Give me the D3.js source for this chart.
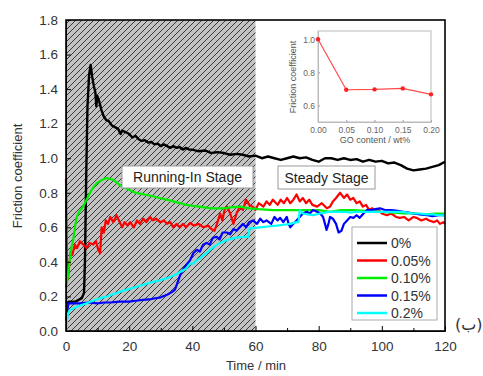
<!DOCTYPE html>
<html>
<head>
<meta charset="utf-8">
<script src="https://cdn.jsdelivr.net/npm/d3@7/dist/d3.min.js"></script>
<style>
  body { margin: 0; background: #fff; }
  svg { display: block; font-family: "Liberation Sans", Arial, sans-serif; }
</style>
</head>
<body>
<svg id="chart" width="483" height="376"></svg>
<script>
// friction coefficient vs time, [min, mu]
var s0 = [[0,0.16],[1,0.17],[2,0.17],[3,0.17],[4,0.18],[5,0.19],[5.7,0.22],[6,0.4],[6.4,0.9],[6.8,1.3],[7.3,1.48],[7.8,1.54],[8.3,1.47],[8.8,1.42],[9.3,1.38],[9.6,1.30],[9.9,1.36],[10.5,1.33],[11.2,1.28],[12,1.24],[12.8,1.22],[13.5,1.215],[14.5,1.19],[15.5,1.18],[16.5,1.17],[17.3,1.14],[17.8,1.16],[19,1.15],[20,1.14],[21,1.12],[22,1.13],[23,1.11],[24,1.10],[25,1.105],[26,1.09],[27,1.095],[28,1.08],[29,1.085],[30,1.07],[31,1.08],[32,1.07],[33,1.06],[34,1.07],[35,1.06],[36,1.065],[37,1.05],[38,1.06],[39,1.05],[40,1.05],[42,1.04],[44,1.045],[46,1.03],[48,1.035],[50,1.03],[52,1.02],[54,1.025],[56,1.02],[58,1.01],[60,1.015],[62,1.00],[64,1.01],[66,1.00],[68,0.99],[70,1.00],[72,1.01],[74,1.00],[76,1.005],[78,0.99],[80,0.98],[82,1.00],[84,1.00],[86,0.99],[88,1.00],[90,0.99],[92,0.995],[94,0.98],[96,0.99],[98,0.98],[100,0.985],[102,0.97],[104,0.975],[106,0.96],[108,0.94],[110,0.93],[112,0.935],[114,0.94],[116,0.95],[118,0.96],[120,0.98]];
var s1 = [[0,0.88],[0.1,0.68],[0.3,0.40],[0.6,0.30],[1,0.38],[1.5,0.46],[2,0.44],[2.8,0.50],[3.5,0.48],[4.4,0.52],[5.5,0.50],[6.5,0.48],[7.5,0.51],[8.6,0.50],[9.5,0.52],[10.2,0.47],[10.8,0.45],[11.3,0.60],[12,0.57],[12.6,0.64],[13.3,0.62],[14,0.66],[15,0.63],[16,0.67],[17,0.63],[17.8,0.60],[18.5,0.63],[19.5,0.61],[20.3,0.63],[21.5,0.60],[22.5,0.64],[23.4,0.62],[24.5,0.65],[25.5,0.63],[26.6,0.66],[27.5,0.64],[28.5,0.65],[29.8,0.63],[31,0.64],[32,0.62],[33,0.63],[34,0.60],[35,0.62],[36,0.60],[37,0.62],[38,0.60],[39.3,0.625],[40.5,0.61],[42,0.62],[43.5,0.60],[45,0.61],[46,0.59],[47,0.58],[47.8,0.62],[48.8,0.68],[49.5,0.64],[50.2,0.70],[51,0.72],[52,0.68],[53,0.62],[54,0.68],[55,0.72],[56,0.70],[57,0.76],[58,0.73],[59,0.72],[60,0.70],[61,0.74],[62.5,0.72],[63.5,0.75],[64.5,0.73],[65.5,0.76],[67,0.73],[68,0.76],[69,0.74],[70,0.77],[71,0.74],[72,0.76],[73,0.79],[74,0.75],[75,0.77],[76,0.74],[77,0.76],[78,0.73],[79.5,0.72],[81,0.74],[82.6,0.71],[83.6,0.72],[84.5,0.75],[85.5,0.77],[86.8,0.80],[88,0.77],[89,0.79],[90,0.76],[91,0.77],[92,0.74],[93,0.75],[94,0.72],[95,0.73],[96,0.70],[97,0.71],[98,0.69],[99,0.70],[100,0.68],[101.6,0.67],[103,0.68],[104.5,0.66],[105.7,0.655],[107,0.66],[108.5,0.64],[110,0.66],[111,0.655],[112.5,0.64],[114,0.65],[115,0.64],[116.5,0.63],[117.5,0.64],[118.4,0.62],[119.5,0.63],[120,0.62]];
var s2 = [[0,0.25],[0.5,0.30],[1,0.38],[1.6,0.47],[2.3,0.53],[3,0.62],[3.4,0.66],[4.2,0.69],[5.4,0.72],[6.5,0.76],[7.6,0.80],[8.6,0.83],[9.7,0.855],[11,0.87],[12,0.88],[12.9,0.885],[14,0.88],[15,0.875],[16,0.86],[17,0.845],[18.5,0.83],[20.3,0.815],[22,0.80],[23.5,0.795],[25.5,0.787],[27.5,0.78],[29.5,0.77],[31.9,0.76],[34,0.75],[36,0.74],[38,0.73],[40,0.725],[42,0.72],[44,0.715],[46,0.71],[48,0.71],[50,0.71],[52,0.715],[55,0.72],[58,0.71],[61,0.705],[65.5,0.70],[70,0.70],[76,0.70],[80,0.70],[83.6,0.69],[87,0.70],[91,0.70],[95,0.695],[100,0.69],[104,0.685],[106.7,0.68],[110,0.68],[114,0.675],[117,0.68],[120,0.68]];
var s3 = [[0,0.06],[0.4,0.12],[0.8,0.16],[2,0.16],[4.4,0.16],[7,0.165],[10,0.16],[12,0.165],[14,0.165],[17,0.17],[20,0.17],[22,0.175],[24.4,0.18],[27,0.185],[30,0.195],[32,0.21],[33.5,0.225],[34.5,0.24],[35.5,0.29],[36.3,0.33],[37,0.355],[38,0.38],[39.3,0.41],[40.3,0.45],[41.4,0.47],[42.4,0.46],[43.4,0.50],[44.5,0.51],[45.5,0.50],[46.5,0.54],[47.7,0.545],[48.6,0.53],[49.6,0.57],[50.9,0.57],[52,0.56],[53,0.59],[54,0.58],[55,0.60],[56,0.62],[57,0.60],[58,0.63],[59.2,0.64],[60.5,0.62],[61.5,0.65],[62.5,0.63],[63.5,0.64],[65,0.62],[66,0.66],[67,0.64],[67.8,0.655],[68.8,0.63],[69.9,0.66],[70.5,0.62],[71,0.60],[72,0.62],[73,0.64],[74,0.66],[75,0.68],[76.2,0.69],[77.2,0.68],[78.2,0.70],[79.5,0.69],[80.5,0.68],[81.4,0.66],[82,0.62],[82.5,0.585],[83.1,0.62],[83.6,0.66],[84.5,0.65],[85.5,0.62],[86.3,0.57],[87.2,0.58],[88,0.62],[89,0.64],[90,0.66],[91,0.655],[92,0.67],[93,0.655],[94.2,0.68],[95.3,0.70],[96.5,0.70],[98,0.705],[99.4,0.71],[101,0.70],[103,0.70],[105,0.695],[106.7,0.69],[108.5,0.685],[110,0.68],[112,0.675],[114.3,0.67],[116,0.665],[118,0.67],[120,0.67]];
var s4 = [[0,0.0],[0.3,0.06],[0.6,0.10],[1.2,0.12],[2.3,0.13],[4,0.145],[6.5,0.16],[8.5,0.175],[10.8,0.19],[13,0.20],[16,0.22],[18.5,0.235],[21.3,0.25],[24,0.265],[26.6,0.28],[29,0.29],[31.9,0.305],[34,0.32],[36,0.34],[38,0.36],[39.3,0.39],[40.3,0.39],[41.5,0.41],[42.4,0.42],[43.5,0.44],[44.5,0.45],[45.6,0.47],[47,0.49],[48.8,0.51],[50,0.52],[51.5,0.53],[52.5,0.535],[54,0.54],[56,0.545],[57.7,0.545],[58.1,0.595],[59,0.595],[61.4,0.60],[64,0.605],[66.7,0.61],[69,0.615],[71,0.62],[73,0.63],[73.6,0.63],[74,0.70],[75,0.68],[76.5,0.675],[78.2,0.67],[80.4,0.68],[82,0.685],[83.6,0.69],[85.7,0.69],[88,0.69],[90,0.685],[92,0.69],[94,0.69],[96,0.69],[98,0.69],[100,0.69],[102,0.69],[104,0.69],[106.7,0.69],[108,0.685],[110,0.68],[112,0.68],[114,0.675],[116,0.675],[118,0.67],[120,0.67]];

var seriesNames = ["0%","0.05%","0.10%","0.15%","0.2%"];
var seriesColors = ["#000000","#ff0000","#00ee00","#0000ff","#00ffff"];
var seriesData = [s0,s1,s2,s3,s4];

var xTicks = [0,20,40,60,80,100,120];
var xMinor = [10,30,50,70,90,110];
var yTicks = [0,0.2,0.4,0.6,0.8,1.0,1.2,1.4,1.6,1.8];

// inset: average friction vs GO content
var goContent = [0,0.05,0.10,0.15,0.20];
var goFriction = [1.0,0.695,0.697,0.703,0.667];
var insetXTicks = [0,0.05,0.10,0.15,0.20];
var insetYTicks = [0.6,0.8,1.0];

var svg = d3.select('#chart');

var x = d3.scaleLinear().domain([0,120]).range([66,445]);
var y = d3.scaleLinear().domain([0,1.8]).range([331,20]);

// hatched running-in region
var defs = svg.append('defs');
var pat = defs.append('pattern')
    .attr('id','hatch')
    .attr('patternUnits','userSpaceOnUse')
    .attr('width',6).attr('height',6);
pat.append('rect').attr('width',6).attr('height',6).attr('fill','#c2c2c2');
pat.append('path')
    .attr('d','M0,6L6,0M-1.5,1.5L1.5,-1.5M4.5,7.5L7.5,4.5')
    .attr('stroke','#3a3a3a').attr('stroke-width',1);

svg.append('rect')
    .attr('x',x(0)).attr('y',y(1.8))
    .attr('width',x(60)-x(0)).attr('height',y(0)-y(1.8))
    .attr('fill','url(#hatch)');

// curves
var line = d3.line().x(function(d){return x(d[0]);}).y(function(d){return y(d[1]);});
svg.append('g').selectAll('path')
    .data(seriesData)
  .enter().append('path')
    .attr('d',line)
    .attr('fill','none')
    .attr('stroke',function(d,i){return seriesColors[i];})
    .attr('stroke-width',function(d,i){return i==0 ? 2.4 : 2.2;})
    .attr('stroke-linejoin','round');

// stage labels
var stages = [["Running-In Stage",122,166,131,22],["Steady Stage",278,166,97,23]];
var sg = svg.append('g').selectAll('g').data(stages).enter().append('g');
sg.append('rect')
    .attr('x',function(d){return d[1];}).attr('y',function(d){return d[2];})
    .attr('width',function(d){return d[3];}).attr('height',function(d){return d[4];})
    .attr('fill','#fff').attr('stroke','#999').attr('stroke-width',1);
sg.append('text')
    .attr('x',function(d){return d[1]+d[3]/2;})
    .attr('y',function(d){return d[2]+d[4]/2+5;})
    .attr('text-anchor','middle')
    .attr('font-size',14).attr('fill','#222')
    .text(function(d){return d[0];});

// axes
svg.append('g').attr('transform','translate(0,331)')
    .call(d3.axisBottom(x).tickValues(xTicks).tickSizeInner(-5).tickSizeOuter(0).tickPadding(10).tickFormat(d3.format('d')));
svg.append('g').attr('transform','translate(0,331)')
    .call(d3.axisBottom(x).tickValues(xMinor).tickSizeInner(-3).tickSizeOuter(0).tickFormat(''))
    .select('.domain').remove();
svg.append('g').attr('transform','translate(66,0)')
    .call(d3.axisLeft(y).tickValues(yTicks).tickSizeInner(-5).tickSizeOuter(0).tickPadding(8).tickFormat(d3.format('.1f')));
svg.selectAll('.tick text').attr('font-size',13.5).attr('fill','#333').attr('font-family','Liberation Sans, Arial, sans-serif');
svg.selectAll('.tick line').attr('stroke','#000');

// frame
svg.append('rect')
    .attr('x',x(0)).attr('y',y(1.8))
    .attr('width',x(120)-x(0)).attr('height',y(0)-y(1.8))
    .attr('fill','none').attr('stroke','#000').attr('stroke-width',1.6);

svg.append('text').attr('x',256).attr('y',370).attr('text-anchor','middle')
    .attr('font-size',13).attr('fill','#333').text('Time / min');
svg.append('text').attr('transform','translate(22,176) rotate(-90)').attr('text-anchor','middle')
    .attr('font-size',13).attr('fill','#333').text('Friction coefficient');

// legend
var lg = svg.append('g');
lg.append('rect').attr('x',352).attr('y',227).attr('width',85).attr('height',93)
    .attr('fill','#fff').attr('stroke','#aaa').attr('stroke-width',1);
var le = lg.selectAll('g.le').data(seriesNames).enter().append('g')
    .attr('transform',function(d,i){return 'translate(0,'+(243+i*17.5)+')';});
le.append('line').attr('x1',357).attr('x2',387)
    .attr('stroke',function(d,i){return seriesColors[i];}).attr('stroke-width',2.5);
le.append('text').attr('x',391).attr('y',5).attr('font-size',14).attr('fill','#333')
    .text(function(d){return d;});

// inset
var ix = d3.scaleLinear().domain([0,0.2]).range([318,431]);
var iy = d3.scaleLinear().domain([0.5,1.05]).range([122,31]);
var inset = svg.append('g');
inset.append('g').attr('transform','translate(0,122)')
    .call(d3.axisBottom(ix).tickValues(insetXTicks).tickSizeInner(-2).tickSizeOuter(0).tickPadding(5).tickFormat(d3.format('.2f')));
inset.append('g').attr('transform','translate(318,0)')
    .call(d3.axisLeft(iy).tickValues(insetYTicks).tickSizeInner(-2).tickSizeOuter(0).tickPadding(3).tickFormat(d3.format('.1f')));
inset.selectAll('.tick text').attr('font-size',8.5).attr('fill','#666');
inset.selectAll('.tick line').attr('stroke','#999');
inset.selectAll('.domain').attr('stroke','#bbb');
inset.append('rect').attr('x',318).attr('y',31).attr('width',113).attr('height',91)
    .attr('fill','none').attr('stroke','#bbb').attr('stroke-width',1);
inset.append('path').datum(d3.zip(goContent,goFriction))
    .attr('d',d3.line().x(function(d){return ix(d[0]);}).y(function(d){return iy(d[1]);}))
    .attr('fill','none').attr('stroke','#ff4a4a').attr('stroke-width',1.2);
inset.selectAll('circle').data(d3.zip(goContent,goFriction)).enter().append('circle')
    .attr('cx',function(d){return ix(d[0]);}).attr('cy',function(d){return iy(d[1]);})
    .attr('r',2.2).attr('fill','#ff2020');
inset.append('text').attr('x',375).attr('y',143).attr('text-anchor','middle')
    .attr('font-size',9).attr('fill','#555').text('GO content / wt%');
inset.append('text').attr('transform','translate(296,77) rotate(-90)').attr('text-anchor','middle')
    .attr('font-size',9).attr('fill','#555').text('Friction coefficient');

// panel mark
svg.append('text').attr('x',455).attr('y',330).attr('font-size',16).attr('fill','#333')
    .attr('font-family','DejaVu Sans, sans-serif').text('(ب)');
</script>
</body>
</html>
